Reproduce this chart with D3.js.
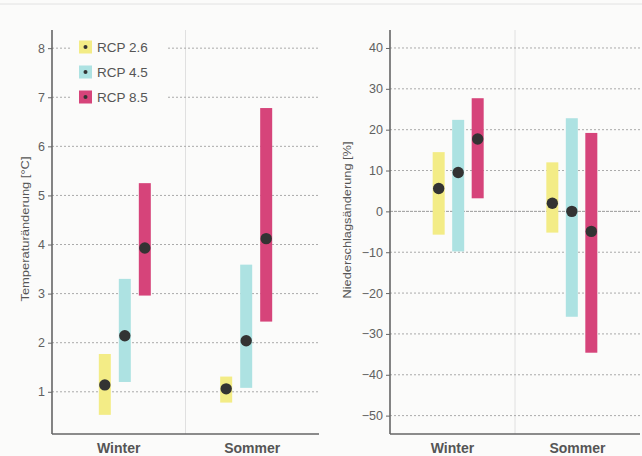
<!DOCTYPE html>
<html>
<head>
<meta charset="utf-8">
<script src="https://cdn.jsdelivr.net/npm/d3@7"></script>
<style>
  html, body { margin: 0; padding: 0; background: #fbfbfa; }
  svg { display: block; font-family: "Liberation Sans", Arial, sans-serif; }
</style>
</head>
<body>
<svg id="chart" width="642" height="456"></svg>
<script>
// ---- data ----
const seasons = ["Winter", "Sommer"];
const scenarios = ["RCP 2.6", "RCP 4.5", "RCP 8.5"];
const scenarioColors = ["#f3ec86", "#ade2e2", "#d6447a"];

// Temperature change [°C]: low, high, median per season (Winter, Sommer)
const tempLow    = [[0.53, 0.78], [1.20, 1.08], [2.96, 2.43]];
const tempHigh   = [[1.77, 1.31], [3.30, 3.59], [5.25, 6.78]];
const tempMedian = [[1.14, 1.06], [2.14, 2.04], [3.93, 4.12]];
const tempTicks  = [1, 2, 3, 4, 5, 6, 7, 8];

// Precipitation change [%]
const precLow    = [[-5.7, -5.2], [-9.8, -25.8], [3.2, -34.6]];
const precHigh   = [[14.5, 12.0], [22.4, 22.8], [27.7, 19.2]];
const precMedian = [[5.6, 2.0], [9.5, 0.0], [17.7, -4.9]];
const precTicks  = [40, 30, 20, 10, 0, -10, -20, -30, -40, -50];

const svg = d3.select("#chart");

// faint top border of the scanned page
svg.append("line").attr("x1", 0).attr("x2", 642).attr("y1", 4).attr("y2", 4)
  .attr("stroke", "#e2e2e2").attr("stroke-width", 1);

function panel(opts) {
  const g = svg.append("g");
  const {x0, x1, yTop, yBot, domain, ticks, low, high, med, title, titleX, titleY, titleLen, offset, zeroLine} = opts;
  const y = d3.scaleLinear().domain(domain).range([yBot, yTop]);
  const xb = d3.scaleBand().domain(seasons).range([x0, x1]);
  const xp = d3.scalePoint().domain(seasons).range([x0, x1]).padding(0.6);
  const xd = d3.scalePoint().domain(scenarios).range([-offset, offset]);

  // vertical divider between seasons
  g.append("line")
    .attr("x1", xb("Sommer")).attr("x2", xb("Sommer"))
    .attr("y1", yTop).attr("y2", yBot)
    .attr("stroke", "#e0e0e0").attr("stroke-width", 1);

  // gridlines
  g.selectAll("line.grid").data(ticks).join("line")
    .attr("class", "grid")
    .attr("x1", x0).attr("x2", x1)
    .attr("y1", d => y(d)).attr("y2", d => y(d))
    .attr("stroke", d => (zeroLine && d === 0) ? "#999" : "#aaa")
    .attr("stroke-width", 1)
    .attr("stroke-dasharray", d => (zeroLine && d === 0) ? "3,1" : "2,2");

  // legend background (interrupts grid)
  if (opts.legend) {
    g.append("rect").attr("x", 72).attr("y", 34).attr("width", 96).attr("height", 76)
      .attr("fill", "#fbfbfa");
  }

  // range bars
  scenarios.forEach((s, i) => {
    seasons.forEach((se, j) => {
      const cx = xp(se) + xd(s);
      g.append("rect")
        .attr("x", cx - 6).attr("width", 12)
        .attr("y", y(high[i][j]))
        .attr("height", y(low[i][j]) - y(high[i][j]))
        .attr("fill", scenarioColors[i]);
    });
  });
  // medians
  scenarios.forEach((s, i) => {
    seasons.forEach((se, j) => {
      g.append("circle")
        .attr("cx", xp(se) + xd(s)).attr("cy", y(med[i][j]))
        .attr("r", 5.7).attr("fill", "#333");
    });
  });

  // y axis
  const ya = g.append("g").attr("transform", `translate(${x0},0)`)
    .call(d3.axisLeft(y).tickValues(ticks).tickSize(4).tickPadding(3)
      .tickFormat(d => d < 0 ? "\u2212" + Math.abs(d) : d));
  ya.select(".domain").remove();
  ya.selectAll(".tick line").attr("stroke", "#666");
  ya.selectAll(".tick text").attr("fill", "#606060").attr("font-size", 12.5).attr("font-family", "Liberation Sans, Arial, sans-serif");
  g.append("line").attr("x1", x0).attr("x2", x0).attr("y1", yTop).attr("y2", yBot)
    .attr("stroke", "#666").attr("stroke-width", 1.6);

  // x axis
  g.append("line").attr("x1", x0).attr("x2", x1).attr("y1", yBot).attr("y2", yBot)
    .attr("stroke", "#666").attr("stroke-width", 1.6);
  const xa = g.append("g").attr("transform", `translate(0,${yBot})`)
    .call(d3.axisBottom(xb).tickSize(0).tickPadding(9));
  xa.select(".domain").remove();
  xa.selectAll(".tick text").attr("fill", "#555").attr("font-size", 14).attr("font-weight", "bold")
    .attr("font-family", "Liberation Sans, Arial, sans-serif");

  // axis title
  g.append("text")
    .attr("transform", `translate(${titleX},${titleY}) rotate(-90)`)
    .attr("dy", "0.35em")
    .attr("text-anchor", "middle").attr("font-size", 11.5).attr("fill", "#555")
    .attr("textLength", titleLen).attr("lengthAdjust", "spacingAndGlyphs")
    .text(title);

  // legend
  if (opts.legend) {
    const lg = g.append("g");
    scenarios.forEach((s, i) => {
      const yy = 47 + i * 25;
      lg.append("rect").attr("x", 79).attr("y", yy - 6.5).attr("width", 13).attr("height", 13)
        .attr("fill", scenarioColors[i]);
      lg.append("circle").attr("cx", 85.5).attr("cy", yy).attr("r", 2).attr("fill", "#333");
      lg.append("text").attr("x", 97).attr("y", yy + 5).attr("font-size", 13.5)
        .attr("fill", "#555").text(s);
    });
  }
}

panel({
  x0: 52, x1: 319, yTop: 30, yBot: 434, domain: [0.14, 8.37], ticks: tempTicks,
  low: tempLow, high: tempHigh, med: tempMedian, offset: 20,
  title: "Temperaturänderung [°C]", titleX: 25, titleY: 229, titleLen: 145, legend: true
});
panel({
  x0: 390, x1: 640, yTop: 30, yBot: 434, domain: [-54.5, 44.4], ticks: precTicks,
  low: precLow, high: precHigh, med: precMedian, offset: 19.5,
  title: "Niederschlagsänderung [%]", titleX: 347, titleY: 220, titleLen: 157, zeroLine: true
});
</script>
</body>
</html>
